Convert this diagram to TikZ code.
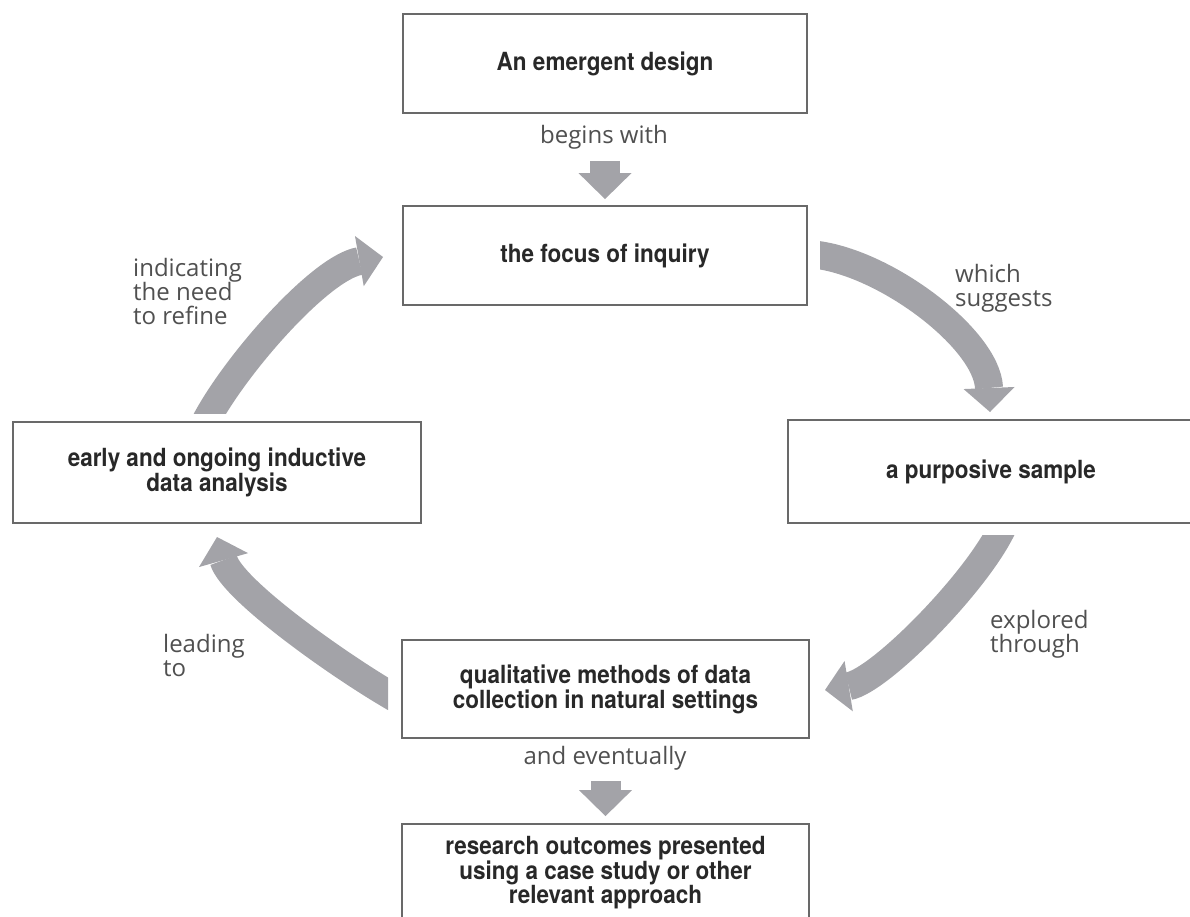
\documentclass[tikz,border=0pt]{standalone}
\usepackage{fontspec}
\setmainfont{Open Sans}
\newfontfamily\boxfont[FakeStretch=0.9]{TeX Gyre Heros}
\usetikzlibrary{arrows.meta}
\definecolor{arrowgray}{RGB}{163,163,168}
\definecolor{boxline}{RGB}{105,105,105}
\definecolor{boxtext}{RGB}{40,40,40}
\definecolor{lbltext}{RGB}{80,80,80}
\begin{document}
\begin{tikzpicture}[x=1pt,y=-1pt,
  box/.style={draw=boxline, line width=1.8pt, rectangle, inner sep=0pt,
    align=center, text=boxtext,
    font=\boxfont\bfseries\fontsize{25}{24}\selectfont},
  lbl/.style={inner sep=0pt, text=lbltext, align=left,
    font=\fontsize{24}{24}\selectfont},
  flow/.style={draw=arrowgray, line width=28pt,
    -{Triangle[length=24pt,width=51pt,line width=0pt]}},
  blockarrow/.style={draw=arrowgray, line width=30pt,
    -{Triangle[length=26pt,width=53pt,line width=0pt]}}]
\useasboundingbox (0,0) rectangle (1190,917);

% boxes
\node[box, minimum width=404pt, minimum height=99pt] (design) at (605,63.5) {An emergent design};
\node[box, minimum width=404pt, minimum height=99pt] (focus) at (605,255.5) {the focus of inquiry};
\node[box, minimum width=406pt, minimum height=103pt] (sample) at (991,471.5) {a purposive sample};
\node[box, minimum width=408pt, minimum height=101pt] (analysis) at (217,472.5) {early and ongoing inductive\\data analysis};
\node[box, minimum width=407pt, minimum height=98pt] (methods) at (605.5,689) {qualitative methods of data\\collection in natural settings};
\node[box, minimum width=407pt, minimum height=98pt] (outcomes) at (605.5,873) {research outcomes presented\\using a case study or other\\relevant approach};

% labels
\node[lbl] (lbegins) at (604,137) {begins with};
\node[lbl, anchor=west] (lsuggests) at (955,288) {which\\suggests};
\node[lbl, anchor=west] (lrefine) at (133,291) {indicating\\the need\\to refine};
\node[lbl, anchor=west] (lexplored) at (990,634) {explored\\through};
\node[lbl, anchor=west] (lleading) at (163,655) {leading\\to};
\node[lbl] (leventually) at (605,758) {and eventually};

% straight block arrows
\draw[blockarrow, shorten <=47pt, shorten >=6pt] (design.south) -- (focus.north);
\draw[blockarrow, shorten <=42pt, shorten >=7pt] (methods.south) -- (outcomes.north);

% ends of the curved arrows
\coordinate (aS) at (808,254);
\coordinate (aE) at (990,412);
\coordinate (bS) at (1004,524);
\coordinate (bE) at (825,690);
\coordinate (cS) at (398.4,699.9);
\coordinate (cE) at (217,537);
\coordinate (dS) at (204.4,423.6);
\coordinate (dE) at (383,257);

% curved arrows, tails cut straight
\begin{scope}
  \clip (820,0) rectangle (1190,917);
  \draw[flow] (aS) .. controls (880,258) and (987,338) .. (aE);
\end{scope}
\begin{scope}
  \clip (0,535) rectangle (1190,917);
  \draw[flow] (bS) .. controls (981,578) and (880,681) .. (bE);
\end{scope}
\begin{scope}
  \clip (0,0) rectangle (388,917);
  \draw[flow] (cS) .. controls (342,668) and (232,590) .. (cE);
\end{scope}
\begin{scope}
  \clip (0,0) rectangle (1190,413);
  \draw[flow] (dS) .. controls (234,366) and (320,268) .. (dE);
\end{scope}
\end{tikzpicture}
\end{document}
